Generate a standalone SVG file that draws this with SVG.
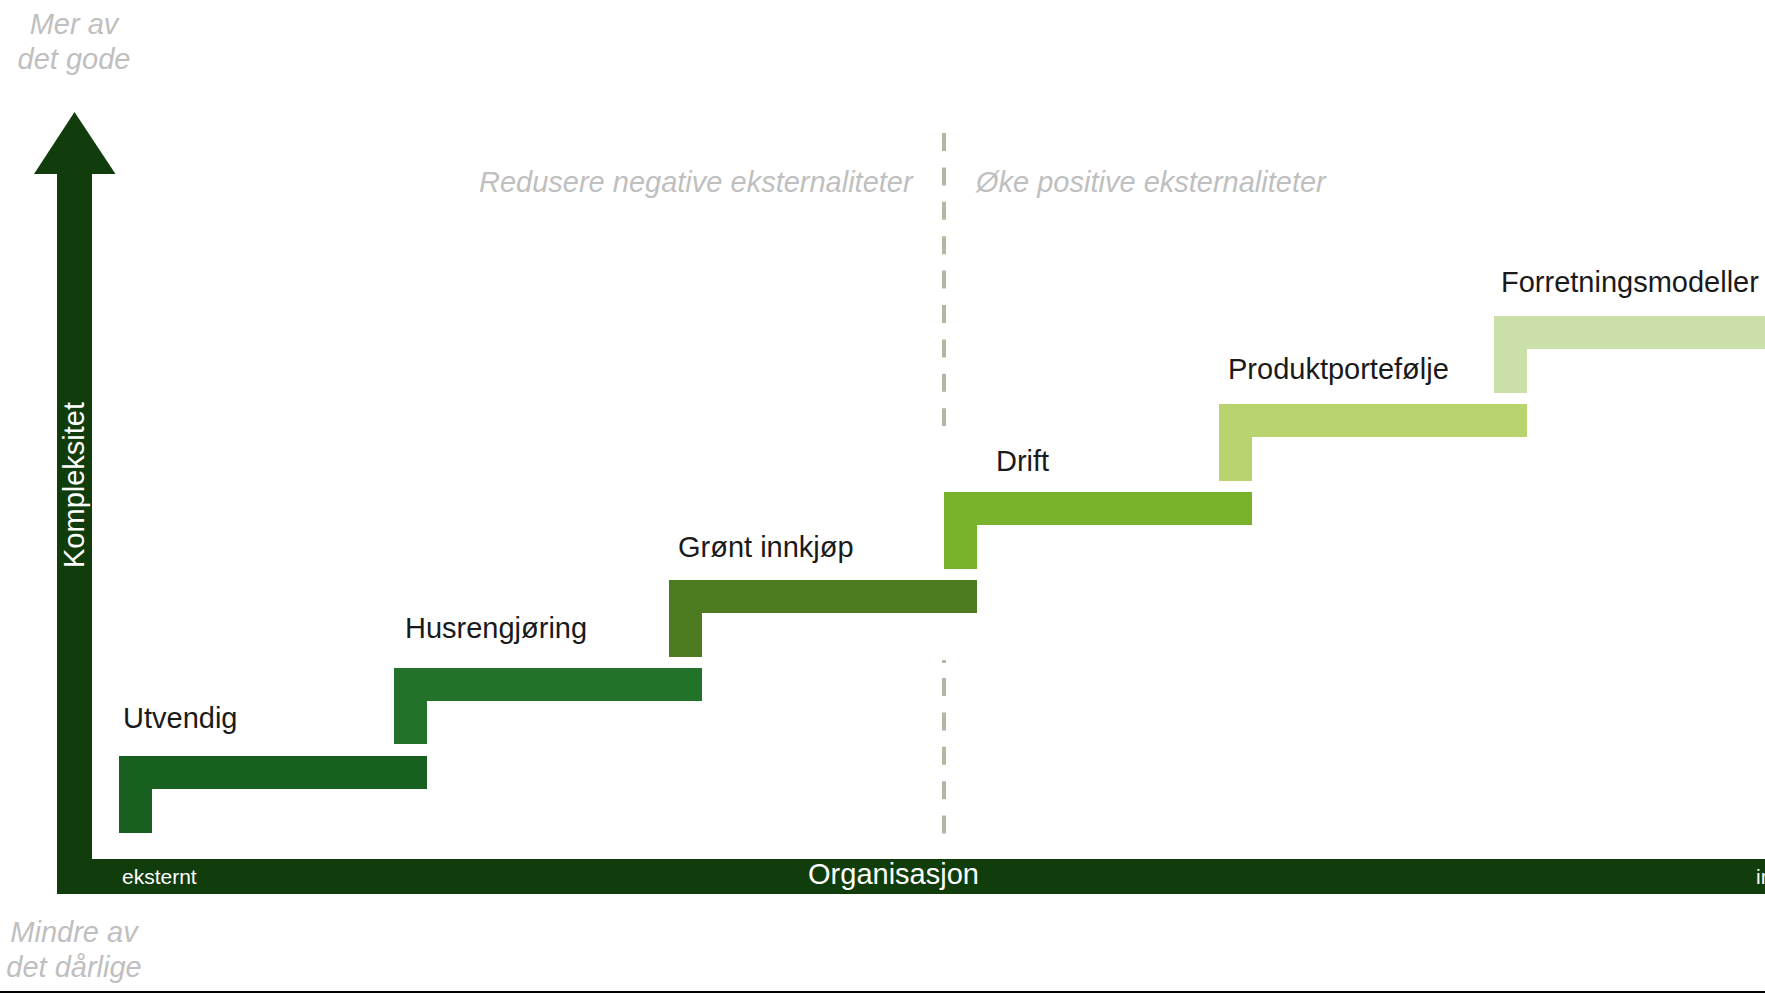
<svg xmlns="http://www.w3.org/2000/svg" width="1765" height="993" viewBox="0 0 1765 993">
<style>
.lbl{font-family:"Liberation Sans",Arial,sans-serif;font-size:29px;fill:#1a1a1a}
.grey{font-family:"Liberation Sans",Arial,sans-serif;font-size:29px;font-style:italic;fill:#bfbfbf}
.axis{fill:#113d0d}
.wt{font-family:"Liberation Sans",Arial,sans-serif;fill:#ffffff}
.dash{stroke:#adba9e;stroke-width:4;fill:none;stroke-dasharray:18 16.4}
</style>
<rect x="0" y="0" width="1765" height="993" fill="#ffffff"/>
<g id="divider">
<line class="dash" x1="944" y1="133" x2="944" y2="426"/>
<line x1="944" y1="660" x2="944" y2="663" stroke="#adba9e" stroke-width="4"/>
<line class="dash" x1="944" y1="678" x2="944" y2="834"/>
</g>
<g id="y-axis">
<rect class="axis" x="57" y="172" width="35" height="722"/>
<polygon class="axis" points="34,174 115.5,174 74.5,112"/>
<text class="wt" font-size="29" text-anchor="middle" transform="translate(84,485) rotate(-90)">Kompleksitet</text>
</g>
<g id="x-axis">
<rect class="axis" x="57" y="859" width="1708" height="35"/>
<text class="wt" x="122" y="884" font-size="21">eksternt</text>
<text class="wt" x="893.5" y="884" font-size="29" text-anchor="middle">Organisasjon</text>
<text class="wt" x="1756" y="884" font-size="21">internt</text>
</g>
<g id="top-label">
<text class="grey" x="74" y="34" text-anchor="middle">Mer av</text>
<text class="grey" x="74" y="69" text-anchor="middle">det gode</text>
</g>
<g id="bottom-label">
<text class="grey" x="74" y="942" text-anchor="middle">Mindre av</text>
<text class="grey" x="74" y="977" text-anchor="middle">det dårlige</text>
</g>
<g id="region-labels">
<text class="grey" x="479" y="192">Redusere negative eksternaliteter</text>
<text class="grey" x="976" y="192">Øke positive eksternaliteter</text>
</g>
<g id="step-utvendig">
<path d="M119 756 H427 V789 H152 V833 H119 Z" fill="#17601f"/>
<text class="lbl" x="123" y="728">Utvendig</text>
</g>
<g id="step-husrengjoring">
<path d="M394 668 H702 V701 H427 V744 H394 Z" fill="#227229"/>
<text class="lbl" x="405" y="638">Husrengjøring</text>
</g>
<g id="step-gront-innkjop">
<path d="M669 580 H977 V613 H702 V657 H669 Z" fill="#4d7b20"/>
<text class="lbl" x="678" y="557">Grønt innkjøp</text>
</g>
<g id="step-drift">
<path d="M944 492 H1252 V525 H977 V569 H944 Z" fill="#78b22a"/>
<text class="lbl" x="996" y="471">Drift</text>
</g>
<g id="step-produktportefolje">
<path d="M1219 404 H1527 V437 H1252 V481 H1219 Z" fill="#b9d36e"/>
<text class="lbl" x="1228" y="379">Produktportefølje</text>
</g>
<g id="step-forretningsmodeller">
<path d="M1494 316 H1765 V349 H1527 V393 H1494 Z" fill="#cbdfa8"/>
<text class="lbl" x="1501" y="292">Forretningsmodeller</text>
</g>
<rect x="0" y="991" width="1765" height="2" fill="#000000"/>
</svg>
